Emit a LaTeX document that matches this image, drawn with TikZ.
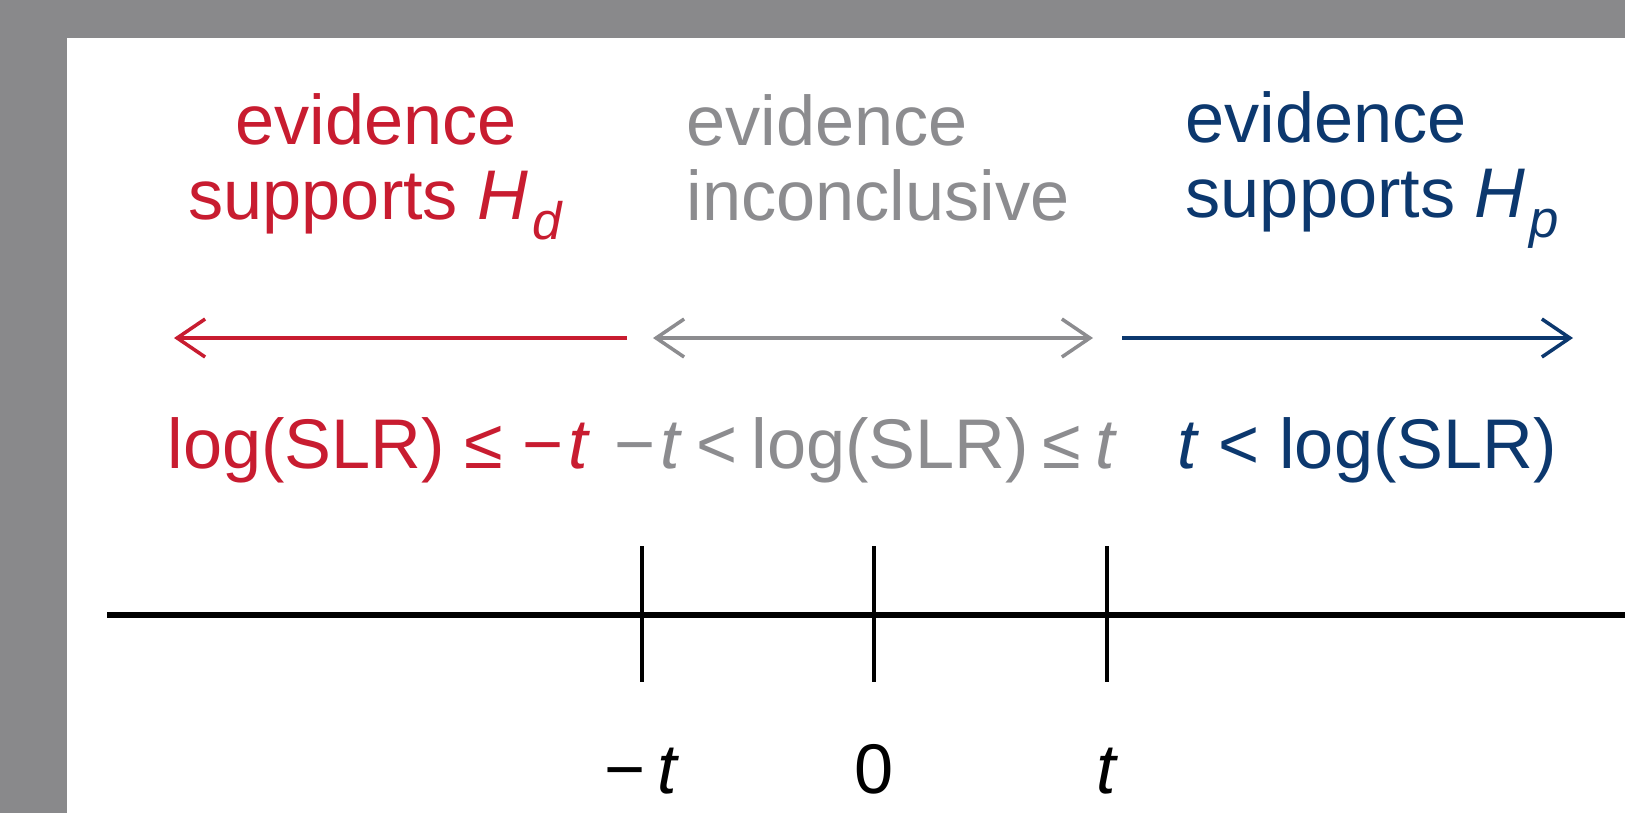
\documentclass[tikz,border=0pt]{standalone}
\usepackage{fontspec}
\setmainfont{Liberation Sans}
\usetikzlibrary{arrows.meta,positioning}
\definecolor{framegray}{RGB}{137,137,139}
\definecolor{hdred}{RGB}{200,28,48}
\definecolor{midgray}{RGB}{140,140,143}
\definecolor{hpblue}{RGB}{12,56,110}
\newcommand{\subsc}[1]{\hspace{0.06em}\raisebox{-0.28em}{\fontsize{15}{15}\selectfont\textit{#1}}}
\newcommand{\negt}{−\hspace{0.07em}\textit{t}}
\newcommand{\gsp}{\hspace{0.2em}}

\begin{document}
\begin{tikzpicture}[
  lbl/.style={font=\fontsize{20}{21.3}\selectfont, inner sep=0pt},
  rng/.style={line width=1pt},
  axisline/.style={line width=1.5pt},
  tickline/.style={line width=0.9pt},
  >={Straight Barb[length=2.8mm,width=3.8mm]}
]
\fill[framegray] (0,0) rectangle (16.25,-8.13);
\fill[white] (0.67,-0.38) rectangle (16.25,-8.13);
\useasboundingbox (0,0) rectangle (16.25,-8.13);

\node[lbl, text=hdred, align=center] (hdhead) at (3.76,-1.67) {evidence\\supports \textit{H}\subsc{d}};
\node[lbl, text=midgray, align=left, anchor=west] (inchead) at (6.86,-1.58) {evidence\\inconclusive};
\node[lbl, text=hpblue, align=left, anchor=west] (hphead) at (11.85,-1.70) {evidence\\supports \textit{H}\subsc{p}};

\coordinate (hdA) at (6.27,-3.38);
\coordinate (hdB) at (1.74,-3.38);
\coordinate (incA) at (6.53,-3.38);
\coordinate (incB) at (10.93,-3.38);
\coordinate (hpA) at (11.22,-3.38);
\coordinate (hpB) at (15.73,-3.38);
\draw[rng, hdred, ->] (hdA) -- (hdB);
\draw[rng, midgray, <->] (incA) -- (incB);
\draw[rng, hpblue, ->] (hpA) -- (hpB);

\node[lbl, text=hdred, anchor=base] (hdrule) at (3.79,-4.68) {log(SLR) ≤ \negt};
\node[lbl, text=midgray, anchor=base] (incrule) at (8.66,-4.68) {\negt\gsp<\gsp log(SLR)\gsp≤\gsp\textit{t}};
\node[lbl, text=hpblue, anchor=base] (hprule) at (13.67,-4.68) {\textit{t} < log(SLR)};

\coordinate (axL) at (1.07,-6.15);
\coordinate (axR) at (16.25,-6.15);
\draw[axisline] (axL) -- (axR);
\foreach \x/\nm/\txt in {6.42/mt/{−\,\textit{t}},8.74/zr/0,11.07/pt/\textit{t}} {
  \coordinate (\nm-top) at (\x,-5.46);
  \coordinate (\nm-bot) at (\x,-6.82);
  \draw[tickline] (\nm-top) -- (\nm-bot);
  \node[lbl, anchor=base] (\nm-lab) at (\x,-7.93) {\txt};
}
\end{tikzpicture}
\end{document}
